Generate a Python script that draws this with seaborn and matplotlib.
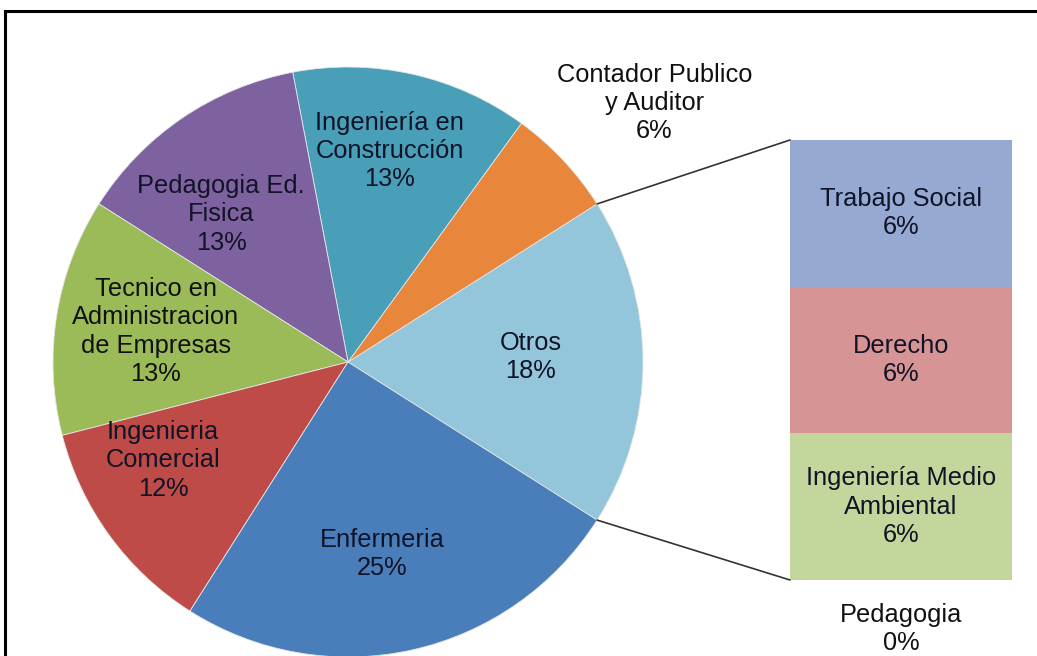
import numpy as np
import matplotlib
matplotlib.use("Agg")
import matplotlib.pyplot as plt
from matplotlib.patches import ConnectionPatch, Rectangle
import seaborn as sns

# ---- data ----
main_labels = ["Otros", "Contador Publico\ny Auditor", "Ingeniería en\nConstrucción",
               "Pedagogia Ed.\nFisica", "Tecnico en\nAdministracion\nde Empresas",
               "Ingenieria\nComercial", "Enfermeria"]
main_values = [18, 6, 13, 13, 13, 12, 25]
sub_labels = ["Pedagogia", "Ingeniería Medio\nAmbiental", "Derecho", "Trabajo Social"]
sub_values = [0, 6, 6, 6]

# ---- style ----
sns.set_theme(style="white")
plt.rcParams["font.family"] = ["Liberation Sans", "DejaVu Sans"]
main_colors = sns.color_palette(["#93C6DA", "#E8873C", "#4A9FB8", "#7E62A0",
                                 "#9BBB59", "#BE4B48", "#4A7EBB"])
sub_colors = sns.color_palette(["#C3D69B", "#C3D69B", "#D69494", "#95A9D2"])
in_color = "#111326"
FS = 18.3
LS = 1.22

W, H = 1037, 656
fig = plt.figure(figsize=(W / 100, H / 100), dpi=100)
fig.patch.set_facecolor("white")

# pie axes: centre (348,362) px, radius 295 px
cx, cy, r = 348, 362, 295
ax1 = fig.add_axes([(cx - r) / W, (H - cy - r) / H, 2 * r / W, 2 * r / H])
start = -main_values[0] / sum(main_values) * 360 / 2
wedges, _ = ax1.pie(main_values, colors=main_colors, startangle=start,
                    counterclock=True, radius=1,
                    wedgeprops=dict(edgecolor="#e6e6e6", linewidth=0.6))
ax1.set_xlim(-1, 1)
ax1.set_ylim(-1, 1)
ax1.set_aspect("equal")
ax1.axis("off")

# label layout (radius, angle offset deg) per wedge
lab_r = [0.62, 1.36, 0.73, 0.66, 0.66, 0.71, 0.66]
lab_da = [1.5, -3.0, 1.4, 6.5, 0.0, -8.0, -2.5]
lab_c = ["#111326", "#111111", in_color, in_color, "#111111", in_color, in_color]
total = sum(main_values)
for w, lbl, v, rr, da, tc in zip(wedges, main_labels, main_values, lab_r, lab_da, lab_c):
    mid = np.deg2rad((w.theta1 + w.theta2) / 2 + da)
    ax1.text(rr * np.cos(mid), rr * np.sin(mid),
             f"{lbl}\n{round(v / total * 100)}%",
             ha="center", va="center", fontsize=FS, color=tc,
             linespacing=LS)

# bar axes: x 790-1012, y 140-580 px
bx0, bx1, by0, by1 = 790, 1012, 140, 580
ax2 = fig.add_axes([bx0 / W, (H - by1) / H, (bx1 - bx0) / W, (by1 - by0) / H])
bottom = 0
for lbl, v, c in zip(sub_labels, sub_values, sub_colors):
    ax2.bar(0, v, bottom=bottom, width=1.0, color=c, edgecolor="none")
    if v > 0:
        ax2.text(0, bottom + v / 2, f"{lbl}\n{round(v / total * 100)}%",
                 ha="center", va="center", fontsize=FS, color=in_color,
                 linespacing=LS)
    else:
        ax2.text(0, bottom - 2.0, f"{lbl}\n{round(v / total * 100)}%",
                 ha="center", va="center", fontsize=FS, color="#111111",
                 linespacing=LS, clip_on=False)
    bottom += v
ax2.set_xlim(-0.5, 0.5)
ax2.set_ylim(0, sum(sub_values))
ax2.axis("off")

# connector lines
otros = wedges[0]
for ang, yb in [(otros.theta2, sum(sub_values)), (otros.theta1, 0)]:
    t = np.deg2rad(ang)
    con = ConnectionPatch(xyA=(np.cos(t), np.sin(t)), coordsA=ax1.transData,
                          xyB=(-0.5, yb), coordsB=ax2.transData,
                          color="#333333", linewidth=1.2)
    fig.add_artist(con)

# outer frame
fig.add_artist(Rectangle((5 / W, -0.05), 1.1, (H - 10.5) / H + 0.05,
                         transform=fig.transFigure, fill=False,
                         edgecolor="black", linewidth=2.2))

fig.savefig("out.png", dpi=100, facecolor="white")
